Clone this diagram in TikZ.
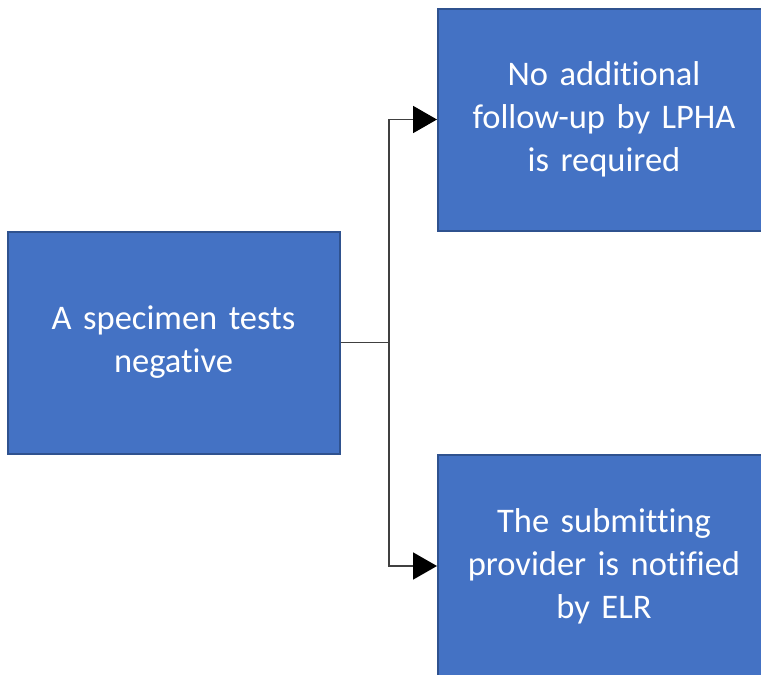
\documentclass[tikz,border=0pt]{standalone}
\usepackage{fontspec}
\setmainfont[Ligatures=NoCommon]{Carlito}
\usetikzlibrary{arrows.meta}
\definecolor{boxfill}{HTML}{4472C4}
\definecolor{boxline}{HTML}{2F528F}
\definecolor{linkcol}{HTML}{404040}
\tikzset{
  box/.style={rectangle, fill=boxfill, draw=boxline, line width=2pt,
    minimum width=332pt, minimum height=222pt, inner sep=0pt,
    text=white, font=\fontsize{34.5}{43}\selectfont, align=center, text width=320pt},
  link/.style={draw=linkcol, line width=1.8pt},
  tip/.style={-{Triangle[length=24pt,width=27pt,fill=black,color=black]}}
}
\begin{document}
\begin{tikzpicture}[x=1pt,y=-1pt]
\useasboundingbox (0,0) rectangle (761,675);
\clip (0,0) rectangle (761,675);
\node[box] (L) at (173.5,342.5) {A specimen tests\\negative};
\node[box] (T) at (604,119.5) {No additional\\follow-up by LPHA\\is required};
\node[box] (B) at (604,566) {The submitting\\provider is notified\\by ELR};
\coordinate (J) at (389,342.5);
\draw[link] (L.east) -- (J);
\draw[link, tip] (J) |- (T.west);
\draw[link, tip] (J) |- (B.west);
\end{tikzpicture}
\end{document}
